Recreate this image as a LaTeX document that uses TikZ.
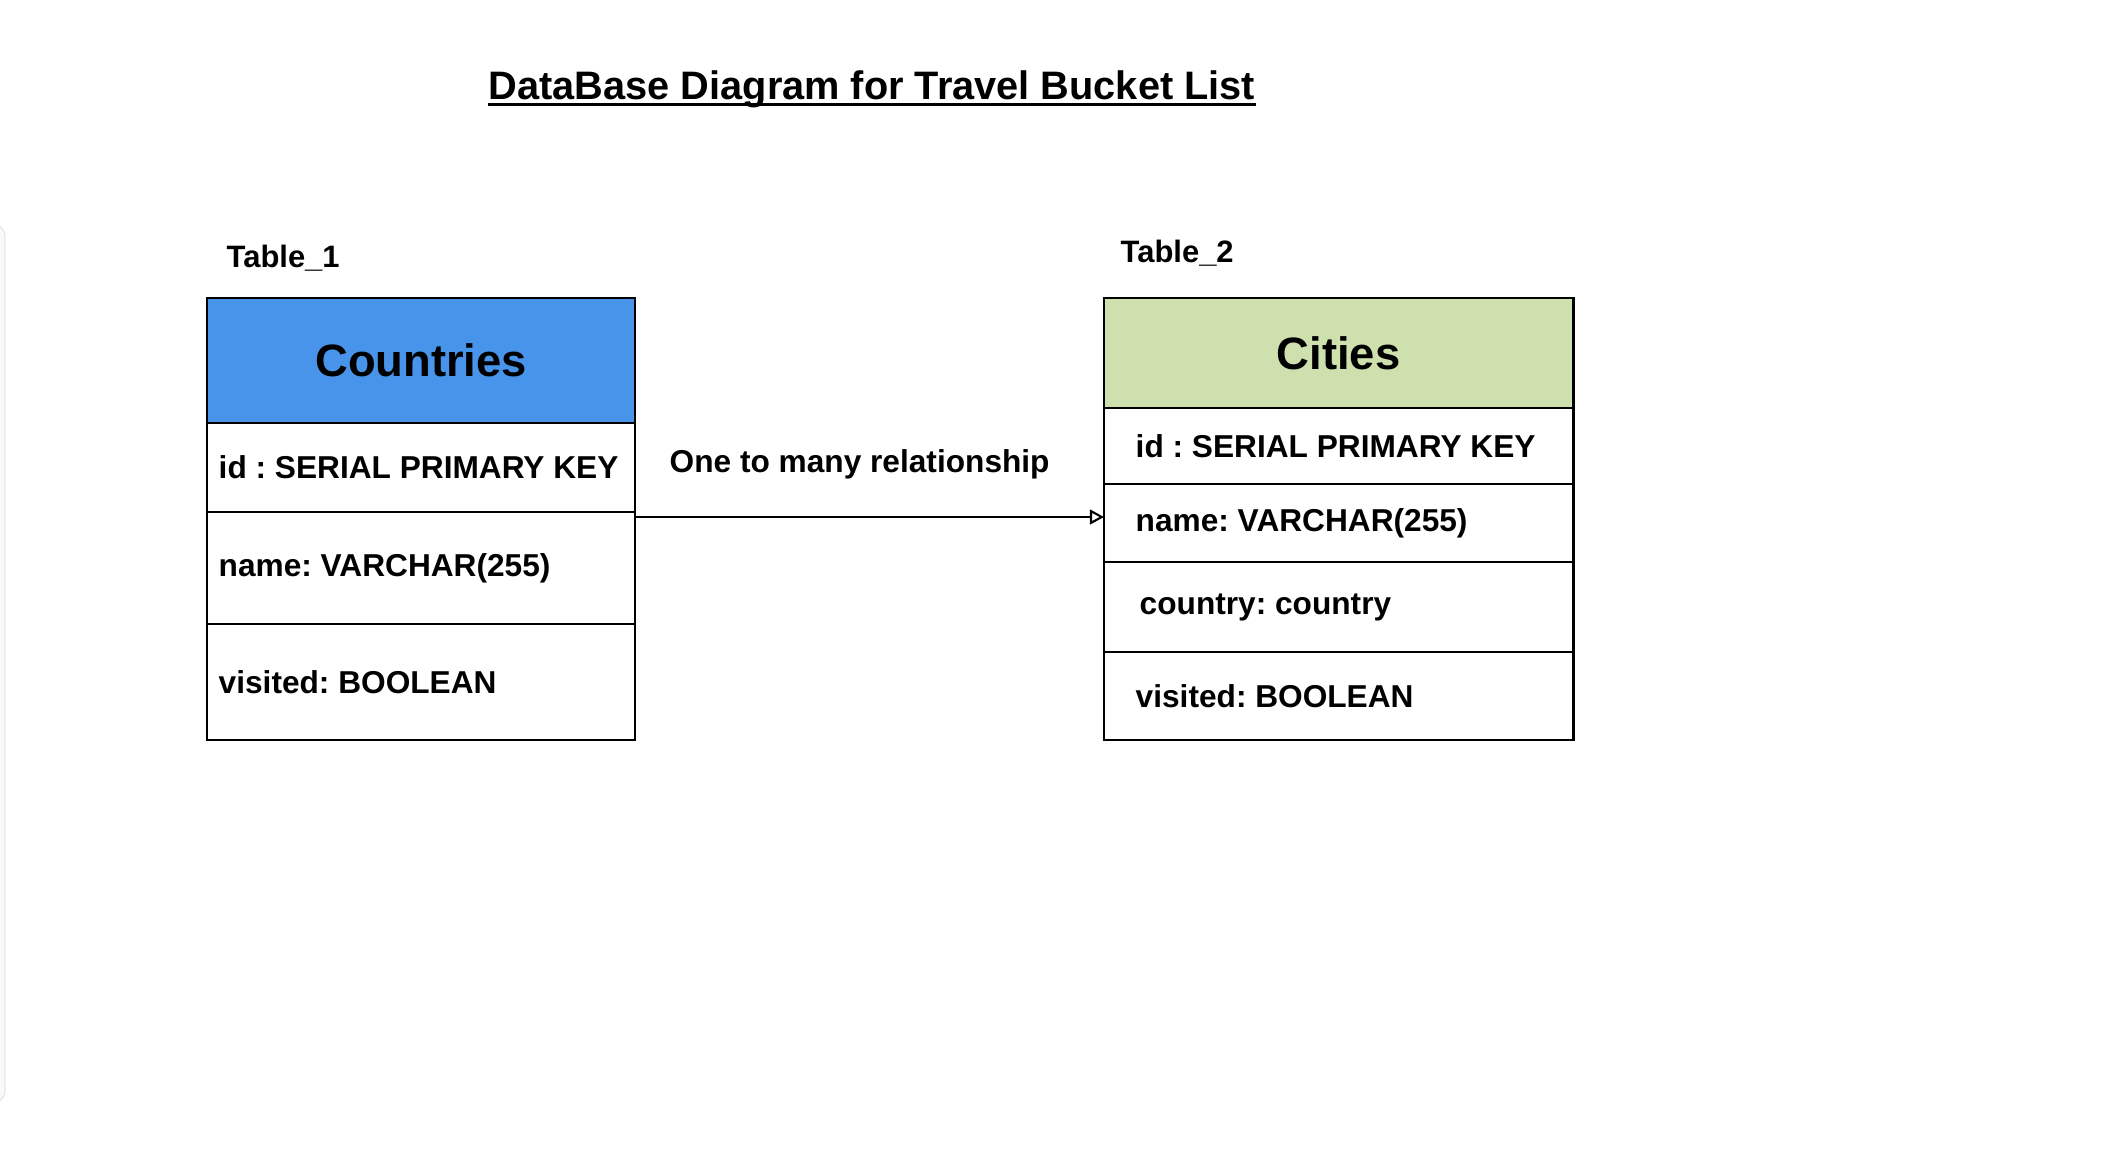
\documentclass[tikz,border=0pt]{standalone}
\usepackage{fontspec}
\setmainfont{Liberation Sans}
\frenchspacing
\usetikzlibrary{arrows.meta}
\definecolor{cblue}{RGB}{72,148,234}
\definecolor{cgreen}{RGB}{205,224,173}
\tikzset{
  cell/.style={draw=black, line width=0.7pt, rectangle, anchor=north west, inner sep=0pt, outer sep=0pt},
  rowtxt/.style={anchor=west, inner sep=0pt, font=\fontsize{9}{11}\selectfont\bfseries},
  headtxt/.style={inner sep=0pt, font=\fontsize{12.9}{15}\selectfont\bfseries},
  tlabel/.style={anchor=west, inner sep=0pt, font=\fontsize{8.8}{10}\selectfont\bfseries},
  arr/.style={draw=black, line width=0.6pt, -{Triangle[open, length=4pt, width=4.2pt]}}
}
\begin{document}
\begin{tikzpicture}[x=0.01cm, y=-0.01cm]
\useasboundingbox (0,0) rectangle (2124,1148);
% faint panel at left edge
\draw[gray!18, fill=gray!5, rounded corners=4] (-30,223) rectangle (5,1104);
% title
\node[inner sep=0pt, anchor=base, font=\fontsize{11.3}{13}\selectfont\bfseries] (title) at (872,99) {DataBase Diagram for Travel Bucket List};
\draw[line width=0.75pt] ([yshift=-0.055cm]title.base west) -- ([yshift=-0.055cm]title.base east);
% Table 1
\node[tlabel] (tl1) at (226,258) {Table\_1};
\node[cell, fill=cblue, minimum width=4.28cm, minimum height=1.25cm] (c1h) at (207,298) {};
\node[cell, fill=white, minimum width=4.28cm, minimum height=0.89cm] (c1i) at (207,423) {};
\node[cell, fill=white, minimum width=4.28cm, minimum height=1.12cm] (c1n) at (207,512) {};
\node[cell, fill=white, minimum width=4.28cm, minimum height=1.16cm] (c1v) at (207,624) {};
\node[headtxt] (c1ht) at (c1h.center) {Countries};
\node[rowtxt] (c1it) at ([xshift=0.11cm]c1i.west) {id : SERIAL PRIMARY KEY};
\node[rowtxt] (c1nt) at ([xshift=0.11cm]c1n.west) {name: VARCHAR(255)};
\node[rowtxt] (c1vt) at ([xshift=0.11cm]c1v.west) {visited: BOOLEAN};
% Table 2
\node[tlabel] (tl2) at (1120,253) {Table\_2};
\node[cell, fill=cgreen, minimum width=4.69cm, minimum height=1.10cm] (c2h) at (1104,298) {};
\node[cell, fill=white, minimum width=4.69cm, minimum height=0.76cm] (c2i) at (1104,408) {};
\node[cell, fill=white, minimum width=4.69cm, minimum height=0.78cm] (c2n) at (1104,484) {};
\node[cell, fill=white, minimum width=4.69cm, minimum height=0.90cm] (c2c) at (1104,562) {};
\node[cell, fill=white, minimum width=4.69cm, minimum height=0.88cm] (c2v) at (1104,652) {};
\node[headtxt] (c2ht) at (c2h.center) {Cities};
\node[rowtxt] (c2it) at ([xshift=0.31cm]c2i.west) {id : SERIAL PRIMARY KEY};
\node[rowtxt] (c2nt) at ([xshift=0.31cm]c2n.west) {name: VARCHAR(255)};
\node[rowtxt] (c2ct) at ([xshift=0.35cm]c2c.west) {country: country};
\node[rowtxt] (c2vt) at ([xshift=0.31cm]c2v.west) {visited: BOOLEAN};
% relationship
\coordinate (rs) at ([yshift=-0.05cm]c1n.north east);
\draw[arr] (rs) -- (rs -| c2n.west);
\node[rowtxt] (rel) at (669,464) {One to many relationship};
\end{tikzpicture}
\end{document}
